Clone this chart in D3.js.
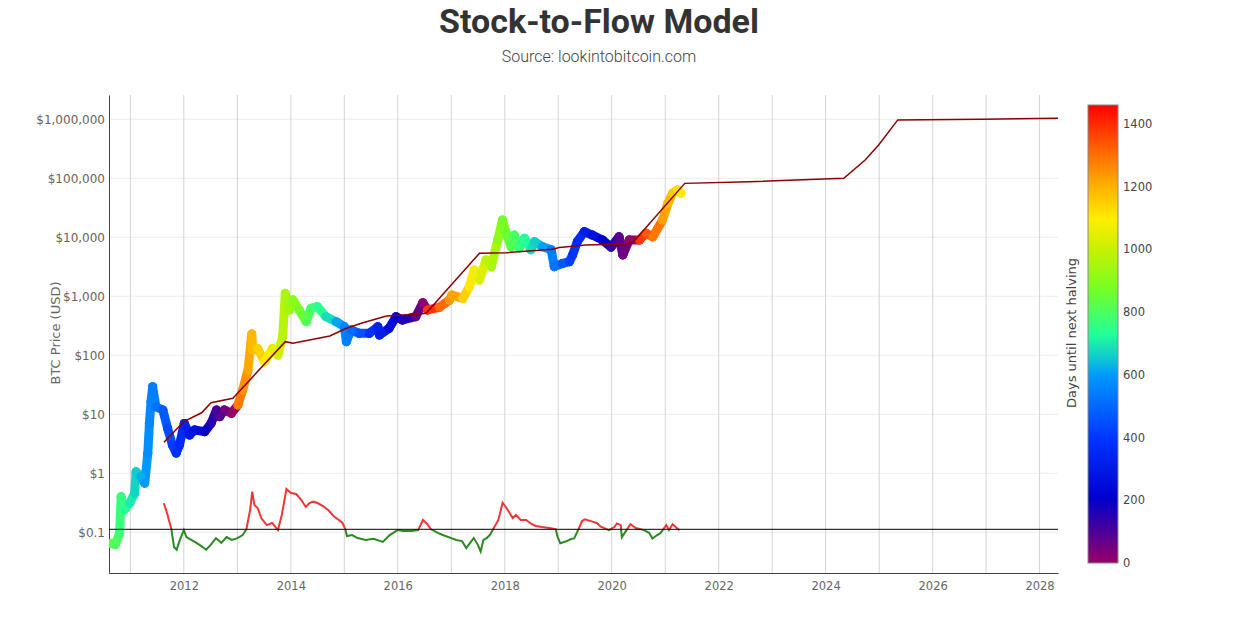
<!DOCTYPE html>
<html>
<head>
<meta charset="utf-8">
<script src="https://cdn.jsdelivr.net/npm/d3@7"></script>
<style>
  body { margin: 0; background: #fff; }
  svg { display: block; }
</style>
</head>
<body>
<script>
// --- data ---
const priceData = [
  ["2010-08-22", 0.065], ["2010-09-20", 0.062], ["2010-10-19", 0.096], ["2010-10-30", 0.40],
  ["2010-11-21", 0.24], ["2010-12-27", 0.31], ["2011-01-30", 0.46], ["2011-02-09", 1.06],
  ["2011-03-14", 0.88], ["2011-04-09", 0.68], ["2011-04-30", 2.18], ["2011-05-11", 7.0],
  ["2011-05-22", 16.4], ["2011-06-02", 29.4], ["2011-06-24", 13.4], ["2011-08-11", 11.8],
  ["2011-09-12", 5.8], ["2011-10-15", 3.0], ["2011-11-10", 2.2], ["2011-12-02", 3.0],
  ["2012-01-04", 7.0], ["2012-02-09", 4.46], ["2012-03-14", 5.4], ["2012-05-22", 5.07],
  ["2012-07-05", 7.0], ["2012-08-11", 11.8], ["2012-09-02", 9.1], ["2012-10-04", 11.8],
  ["2012-11-21", 10.4], ["2013-01-04", 14.3], ["2013-02-06", 25.8], ["2013-03-14", 56],
  ["2013-04-09", 230], ["2013-04-16", 123], ["2013-05-19", 130], ["2013-07-05", 78],
  ["2013-08-29", 130], ["2013-10-04", 101], ["2013-11-06", 207], ["2013-11-24", 1120],
  ["2013-12-24", 586], ["2014-01-15", 865], ["2014-02-27", 586], ["2014-04-16", 371],
  ["2014-05-19", 627], ["2014-07-01", 667], ["2014-08-29", 451], ["2014-11-06", 371],
  ["2015-01-01", 305], ["2015-01-15", 170], ["2015-02-16", 268], ["2015-04-12", 236],
  ["2015-06-21", 236], ["2015-08-18", 305], ["2015-08-29", 221], ["2015-11-03", 287],
  ["2015-12-20", 451], ["2016-02-02", 397], ["2016-05-03", 451], ["2016-06-20", 779],
  ["2016-07-23", 586], ["2016-10-11", 650], ["2016-12-19", 865], ["2017-01-05", 1050],
  ["2017-03-21", 920], ["2017-05-04", 1455], ["2017-06-06", 2790], ["2017-07-12", 1890],
  ["2017-08-25", 4120], ["2017-10-01", 3170], ["2017-11-14", 9000], ["2017-12-16", 19600],
  ["2018-01-11", 11700], ["2018-02-13", 6920], ["2018-03-07", 10900], ["2018-04-09", 6600],
  ["2018-05-15", 9610], ["2018-06-28", 6160], ["2018-07-23", 8420], ["2018-09-16", 6920],
  ["2018-11-14", 6160], ["2018-12-05", 3180], ["2019-01-30", 3600], ["2019-03-18", 3850],
  ["2019-04-09", 5030], ["2019-05-11", 8420], ["2019-06-28", 12400], ["2019-08-22", 10900],
  ["2019-10-30", 9000], ["2019-12-27", 6800], ["2020-02-20", 10200], ["2020-03-17", 5030],
  ["2020-04-30", 9000], ["2020-07-09", 9000], ["2020-08-22", 11700], ["2020-10-08", 10200],
  ["2020-12-13", 19600], ["2021-01-19", 37700], ["2021-02-20", 55700], ["2021-03-25", 63400],
  ["2021-04-20", 55700]
];

const modelData = [
  ["2011-08-18", 3.35], ["2012-01-01", 7.5], ["2012-05-01", 10.6], ["2012-07-05", 15.7],
  ["2012-12-01", 18.7], ["2013-11-24", 170], ["2014-01-15", 160], ["2014-09-24", 212],
  ["2015-01-15", 287], ["2015-05-08", 357], ["2015-10-16", 463], ["2016-02-06", 482],
  ["2016-05-30", 500], ["2016-07-12", 515], ["2017-07-12", 5360], ["2018-01-11", 5480],
  ["2018-11-24", 6270], ["2019-01-08", 6690], ["2019-07-08", 7400], ["2020-04-08", 7700],
  ["2020-05-26", 8200], ["2021-05-14", 82000], ["2022-07-27", 87600], ["2024-05-04", 100000],
  ["2024-09-27", 204000], ["2024-12-28", 367000], ["2025-05-08", 977000], ["2026-12-01", 1000000],
  ["2028-05-06", 1040000]
];

// price / model ratio, red above 1 and green below
const ratioData = [
  ["2011-08-18", 2.76], ["2011-09-12", 1.75], ["2011-10-08", 1.0], ["2011-10-26", 0.50],
  ["2011-11-13", 0.45], ["2011-12-05", 0.66], ["2012-01-01", 0.97], ["2012-01-19", 0.74],
  ["2012-03-13", 0.62], ["2012-04-20", 0.54], ["2012-06-02", 0.45], ["2012-07-01", 0.54],
  ["2012-08-07", 0.71], ["2012-09-13", 0.59], ["2012-10-19", 0.74], ["2012-11-24", 0.66],
  ["2013-01-01", 0.71], ["2013-02-06", 0.80], ["2013-03-03", 1.0], ["2013-03-29", 2.12],
  ["2013-04-12", 4.34], ["2013-04-27", 2.58], ["2013-05-19", 2.3], ["2013-06-13", 1.55],
  ["2013-07-20", 1.18], ["2013-08-26", 1.28], ["2013-10-05", 0.97], ["2013-10-31", 1.75],
  ["2013-12-02", 4.82], ["2014-01-01", 4.12], ["2014-02-06", 3.97], ["2014-03-14", 3.14],
  ["2014-04-13", 2.39], ["2014-05-08", 2.79], ["2014-06-03", 2.94], ["2014-07-02", 2.79],
  ["2014-08-08", 2.48], ["2014-09-13", 2.12], ["2014-10-19", 1.68], ["2014-11-25", 1.44],
  ["2014-12-20", 1.28], ["2015-01-08", 1.0], ["2015-01-19", 0.77], ["2015-02-24", 0.80],
  ["2015-04-02", 0.71], ["2015-05-27", 0.66], ["2015-07-20", 0.69], ["2015-09-21", 0.61],
  ["2015-11-07", 0.80], ["2016-01-01", 0.97], ["2016-02-06", 0.94], ["2016-04-01", 0.94],
  ["2016-05-19", 0.97], ["2016-06-21", 1.44], ["2016-07-20", 1.23], ["2016-08-15", 1.0],
  ["2016-10-01", 0.87], ["2016-11-03", 0.80], ["2017-01-01", 0.71], ["2017-02-03", 0.66],
  ["2017-03-15", 0.63], ["2017-04-13", 0.48], ["2017-05-09", 0.59], ["2017-06-03", 0.71],
  ["2017-07-02", 0.54], ["2017-07-20", 0.42], ["2017-08-08", 0.66], ["2017-08-30", 0.71],
  ["2017-09-21", 0.80], ["2017-10-13", 1.0], ["2017-11-18", 1.44], ["2017-12-17", 2.82],
  ["2018-01-08", 2.39], ["2018-02-03", 1.89], ["2018-02-24", 1.55], ["2018-03-18", 1.75],
  ["2018-04-20", 1.44], ["2018-05-27", 1.44], ["2018-07-02", 1.23], ["2018-07-31", 1.14],
  ["2018-09-13", 1.09], ["2018-10-31", 1.05], ["2018-12-14", 1.01], ["2018-12-28", 0.74],
  ["2019-01-15", 0.58], ["2019-02-20", 0.62], ["2019-04-02", 0.69], ["2019-04-20", 0.70],
  ["2019-05-19", 1.0], ["2019-06-13", 1.38], ["2019-07-02", 1.48], ["2019-08-22", 1.35],
  ["2019-09-21", 1.28], ["2019-10-19", 1.11], ["2019-12-13", 0.97], ["2020-01-19", 1.09],
  ["2020-02-06", 1.26], ["2020-03-03", 1.18], ["2020-03-10", 0.73], ["2020-04-08", 0.94],
  ["2020-05-08", 1.22], ["2020-06-13", 1.05], ["2020-08-08", 0.97], ["2020-09-13", 0.87],
  ["2020-10-05", 0.70], ["2020-11-07", 0.80], ["2020-11-29", 0.86], ["2021-01-08", 1.18],
  ["2021-01-26", 0.97], ["2021-02-20", 1.22], ["2021-03-21", 1.05], ["2021-04-08", 0.97]
];

const halvingDates = ["2012-11-28", "2016-07-09", "2020-05-11", "2024-04-20"];

const yTickValues = [0.1, 1, 10, 100, 1000, 10000, 100000, 1000000];
const colorTicks = [0, 200, 400, 600, 800, 1000, 1200, 1400];
const colorMax = 1460;
const colorStops = [
  [0, "#990066"], [0.07, "#4b0099"], [0.14, "#0000cc"], [0.27, "#0033ff"],
  [0.41, "#0099ff"], [0.45, "#11cccc"], [0.5, "#22ff99"], [0.6, "#77ff22"],
  [0.69, "#ccf000"], [0.75, "#ffee00"], [0.83, "#ffaa00"], [0.9, "#ff6600"], [1, "#ff0000"]
];

// --- setup ---
const W = 1241, H = 621;
const margin = {top: 95, right: 183, bottom: 48, left: 109};
const width = W - margin.left - margin.right;
const height = H - margin.top - margin.bottom;

const parse = d3.utcParse("%Y-%m-%d");
const prices = priceData.map(d => ({date: parse(d[0]), value: d[1]}));
const model = modelData.map(d => ({date: parse(d[0]), value: d[1]}));
const ratio = ratioData.map(d => ({date: parse(d[0]), value: d[1]}));
const halvings = halvingDates.map(parse);

// days until the next halving, used for the marker colour
prices.forEach(d => {
  const next = halvings.find(h => h > d.date);
  d.days = (next - d.date) / 864e5;
});

const svg = d3.select("body").append("svg")
  .attr("width", W).attr("height", H);

svg.append("text")
  .attr("x", 599).attr("y", 33)
  .attr("text-anchor", "middle")
  .style("font-family", "Roboto, sans-serif")
  .style("font-weight", "bold")
  .style("font-size", "34px")
  .style("fill", "#333")
  .text("Stock-to-Flow Model");

svg.append("text")
  .attr("x", 599).attr("y", 62)
  .attr("text-anchor", "middle")
  .style("font-family", "Roboto, sans-serif")
  .style("font-weight", "300")
  .style("font-size", "16px")
  .style("fill", "#444")
  .text("Source: lookintobitcoin.com");

const g = svg.append("g").attr("transform", `translate(${margin.left},${margin.top})`);

const x = d3.scaleUtc()
  .domain([parse("2010-08-08"), parse("2028-05-06")])
  .range([0, width]);
const y = d3.scaleLog().domain([0.0204, 2.58e6]).range([height, 0]);
// secondary axis for the ratio, 1 sits just above the $0.1 line
const yr = d3.scaleLog().domain([0.1817, 2.3e7]).range([height, 0]);

const color = d3.scaleLinear()
  .domain(colorStops.map(s => s[0] * colorMax))
  .range(colorStops.map(s => s[1]))
  .clamp(true);

// gridlines
g.append("g")
  .selectAll("line")
  .data(yTickValues)
  .join("line")
  .attr("x1", 0).attr("x2", width)
  .attr("y1", d => y(d)).attr("y2", d => y(d))
  .attr("stroke", "#ececec").attr("stroke-width", 1);

g.append("g")
  .selectAll("line")
  .data(x.ticks(d3.utcYear.every(1)))
  .join("line")
  .attr("x1", d => x(d)).attr("x2", d => x(d))
  .attr("y1", 0).attr("y2", height)
  .attr("stroke", "#d4d4d4").attr("stroke-width", 1);

// axes
const xAxis = g.append("g")
  .attr("transform", `translate(0,${height})`)
  .call(d3.axisBottom(x).ticks(d3.utcYear.every(2)).tickFormat(d3.utcFormat("%Y")).tickSize(0).tickPadding(9));
xAxis.select(".domain").attr("stroke", "#444");
xAxis.selectAll("text")
  .style("font-family", "DejaVu Sans, Verdana, sans-serif")
  .style("font-size", "11.5px")
  .style("fill", "#666");

const yAxis = g.append("g")
  .call(d3.axisLeft(y).tickValues(yTickValues)
    .tickFormat(d => d < 1 ? "$" + d : "$" + d3.format(",")(d)).tickSize(0).tickPadding(4));
yAxis.select(".domain").attr("stroke", "#444");
yAxis.selectAll("text")
  .style("font-family", "DejaVu Sans, Verdana, sans-serif")
  .style("font-size", "12px")
  .style("fill", "#6a625a");

svg.append("text")
  .attr("transform", `translate(60,333) rotate(-90)`)
  .attr("text-anchor", "middle")
  .style("font-family", "DejaVu Sans, Verdana, sans-serif")
  .style("font-size", "13px")
  .style("fill", "#666")
  .text("BTC Price (USD)");

// clip to plot area
svg.append("defs").append("clipPath").attr("id", "plot")
  .append("rect").attr("width", width).attr("height", height);
const defs = svg.select("defs");
defs.append("clipPath").attr("id", "above")
  .append("rect").attr("width", width).attr("height", yr(1));
defs.append("clipPath").attr("id", "below")
  .append("rect").attr("y", yr(1)).attr("width", width).attr("height", height - yr(1));

const plot = g.append("g").attr("clip-path", "url(#plot)");

// BTC price, coloured by days until next halving
const pairs = d3.pairs(prices);
plot.append("g")
  .selectAll("line")
  .data(pairs)
  .join("line")
  .attr("x1", d => x(d[0].date)).attr("y1", d => y(d[0].value))
  .attr("x2", d => x(d[1].date)).attr("y2", d => y(d[1].value))
  .attr("stroke", d => color(d[0].days))
  .attr("stroke-width", 9)
  .attr("stroke-linecap", "round");

plot.append("g")
  .selectAll("circle")
  .data(prices)
  .join("circle")
  .attr("cx", d => x(d.date))
  .attr("cy", d => y(d.value))
  .attr("r", 4.5)
  .attr("fill", d => color(d.days));

// stock-to-flow model
plot.append("path")
  .datum(model)
  .attr("fill", "none")
  .attr("stroke", "#8b0000")
  .attr("stroke-width", 1.5)
  .attr("d", d3.line().x(d => x(d.date)).y(d => y(d.value)));

// ratio line
const ratioLine = d3.line().x(d => x(d.date)).y(d => yr(d.value));
plot.append("path")
  .datum(ratio)
  .attr("clip-path", "url(#above)")
  .attr("fill", "none")
  .attr("stroke", "#ef3535")
  .attr("stroke-width", 2)
  .attr("d", ratioLine);
plot.append("path")
  .datum(ratio)
  .attr("clip-path", "url(#below)")
  .attr("fill", "none")
  .attr("stroke", "#2b8a22")
  .attr("stroke-width", 2)
  .attr("d", ratioLine);

g.append("line")
  .attr("x1", 0).attr("x2", width)
  .attr("y1", yr(1)).attr("y2", yr(1))
  .attr("stroke", "#000").attr("stroke-width", 1);

// colorbar
const cbX = 1088, cbW = 30, cbTop = 105, cbBottom = 563;
const cb = d3.scaleLinear().domain([0, colorMax]).range([cbBottom, cbTop]);
const grad = defs.append("linearGradient").attr("id", "cbgrad")
  .attr("x1", 0).attr("y1", 1).attr("x2", 0).attr("y2", 0);
grad.selectAll("stop")
  .data(colorStops)
  .join("stop")
  .attr("offset", d => d[0])
  .attr("stop-color", d => d[1]);

svg.append("rect")
  .attr("x", cbX).attr("y", cbTop)
  .attr("width", cbW).attr("height", cbBottom - cbTop)
  .attr("fill", "url(#cbgrad)")
  .attr("stroke", "#888").attr("stroke-width", 1);

const cbAxis = svg.append("g")
  .attr("transform", `translate(${cbX + cbW},0)`)
  .call(d3.axisRight(cb).tickValues(colorTicks).tickFormat(d3.format("d")).tickSize(0).tickPadding(5));
cbAxis.select(".domain").remove();
cbAxis.selectAll("text")
  .style("font-family", "DejaVu Sans, Verdana, sans-serif")
  .style("font-size", "11.5px")
  .style("fill", "#444");

svg.append("text")
  .attr("transform", `translate(1076,333) rotate(-90)`)
  .attr("text-anchor", "middle")
  .style("font-family", "DejaVu Sans, Verdana, sans-serif")
  .style("font-size", "13px")
  .style("fill", "#444")
  .text("Days until next halving");
</script>
</body>
</html>
